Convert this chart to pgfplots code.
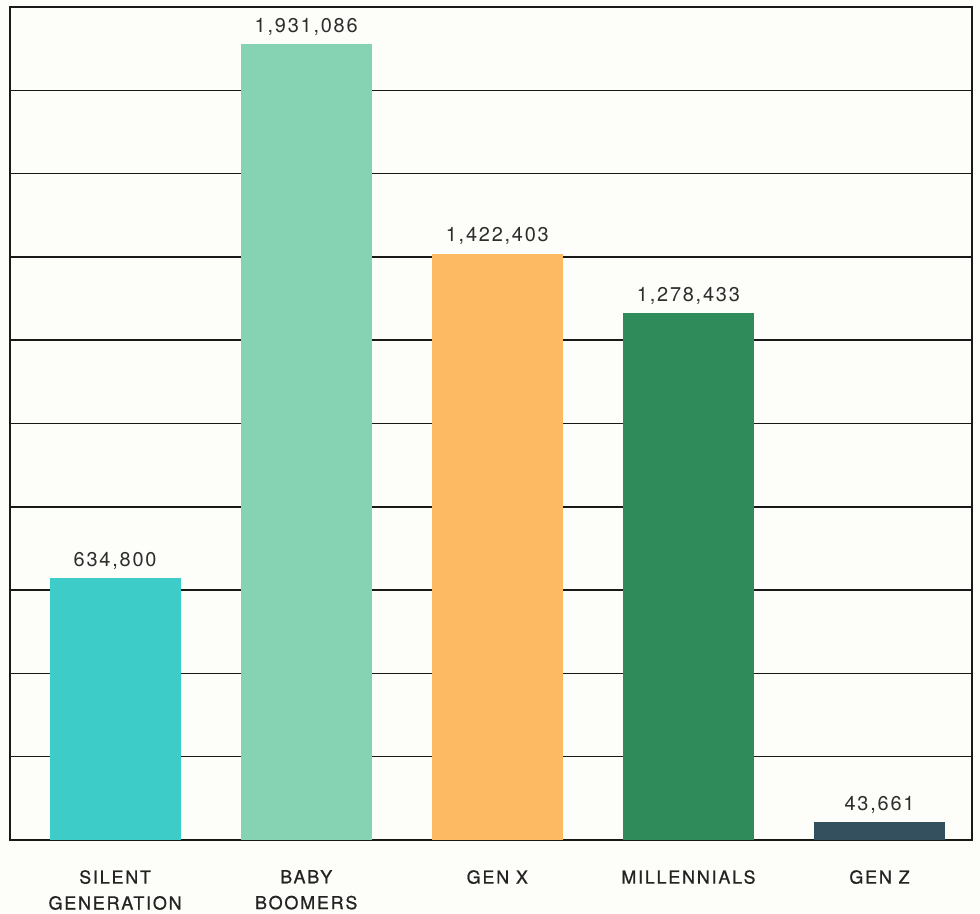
\documentclass[border=0pt]{standalone}
\usepackage{pgfplots}
\pgfplotsset{compat=1.18}
\usepackage{fontspec}
\setmainfont{TeX Gyre Heros}
\newfontfamily\numfont[LetterSpace=9]{TeX Gyre Heros}
\newfontfamily\catfont[LetterSpace=10,FakeBold=0.8]{TeX Gyre Heros}
\usetikzlibrary{backgrounds}
\definecolor{bg}{RGB}{253,253,250}
\definecolor{cSilent}{RGB}{62,204,200}
\definecolor{cBoomer}{RGB}{134,211,180}
\definecolor{cGenX}{RGB}{253,186,98}
\definecolor{cMill}{RGB}{47,139,90}
\definecolor{cGenZ}{RGB}{52,79,94}
\definecolor{txt}{RGB}{45,45,45}
\definecolor{cattxt}{RGB}{35,35,35}
\definecolor{gridc}{RGB}{25,25,25}
\begin{document}
\begin{tikzpicture}
\begin{axis}[
  at={(0,0)}, anchor=south west,
  scale only axis,
  width=962bp, height=833bp,
  xmin=-0.55, xmax=4.484,
  ymin=0, ymax=2020880,
  ytick distance=202088,
  yticklabels={},
  ymajorgrids,
  major grid style={line width=1.5pt, gridc},
  axis line style={line width=1.8pt, gridc},
  major tick length=0pt,
  xtick={0,1,2,3,4},
  xticklabels={SILENT\\GENERATION, BABY\\BOOMERS, GEN X, MILLENNIALS, GEN Z},
  xticklabel style={anchor=north, align=center, inner sep=0pt, yshift=-30bp,
    font=\catfont\fontsize{18}{26}\selectfont, text=cattxt},
  ybar, bar width=0.686, bar shift=0pt,
  every axis plot/.append style={draw=none},
  nodes near coords,
  point meta=explicit symbolic,
  every node near coord/.append style={anchor=base, inner sep=0pt, yshift=12bp,
    font=\numfont\fontsize{20}{24}\selectfont, text=txt},
]
\addplot[fill=cSilent] table[row sep=\\, x=x, y=y, meta=label] {x y label\\ 0 634800 634,800\\};
\addplot[fill=cBoomer] table[row sep=\\, x=x, y=y, meta=label] {x y label\\ 1 1931086 1,931,086\\};
\addplot[fill=cGenX] table[row sep=\\, x=x, y=y, meta=label] {x y label\\ 2 1422403 1,422,403\\};
\addplot[fill=cMill] table[row sep=\\, x=x, y=y, meta=label] {x y label\\ 3 1278433 1,278,433\\};
\addplot[fill=cGenZ] table[row sep=\\, x=x, y=y, meta=label] {x y label\\ 4 43661 43,661\\};
\end{axis}
\pgfresetboundingbox
\begin{scope}[on background layer]
\fill[bg] (-10bp,-74bp) rectangle (970bp,840bp);
\end{scope}
\path (-10bp,-74bp) rectangle (970bp,840bp);
\end{tikzpicture}
\end{document}
